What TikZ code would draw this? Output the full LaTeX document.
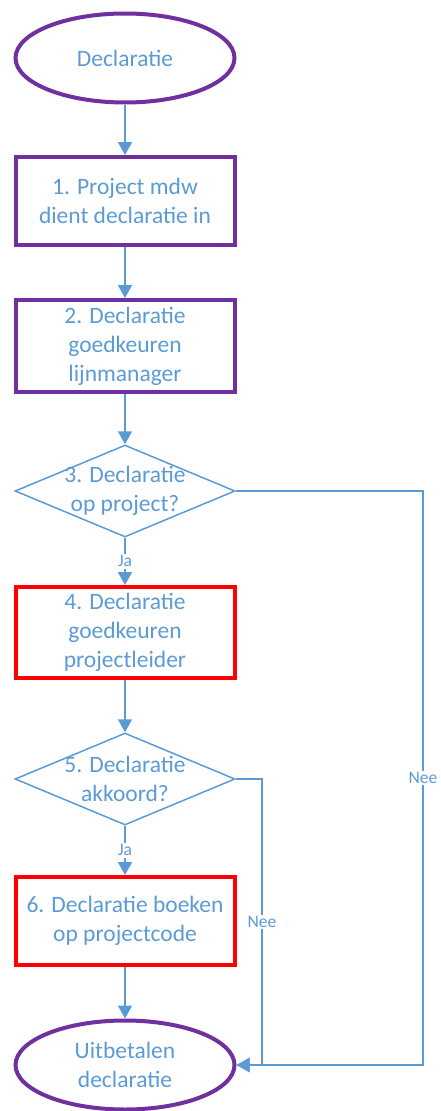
\documentclass[tikz,border=0pt]{standalone}
\usepackage{fontspec}
\setmainfont{Carlito}
\usetikzlibrary{shapes.geometric,arrows.meta}
\definecolor{ablue}{HTML}{5B9BD5}
\definecolor{apurple}{HTML}{7030A0}
\definecolor{ared}{HTML}{FF0000}
\begin{document}
\begin{tikzpicture}[x=1pt,y=-1pt,
  txt/.style={text=ablue,align=center,font=\fontsize{23.5}{29}\selectfont,inner sep=0pt},
  term/.style={ellipse,draw=apurple,line width=4pt,minimum width=219pt,minimum height=89pt,inner sep=0pt,txt},
  procp/.style={rectangle,draw=apurple,line width=4pt,minimum width=219pt,inner sep=0pt,txt},
  procr/.style={rectangle,draw=ared,line width=4pt,minimum width=219pt,inner sep=0pt,txt},
  dec/.style={diamond,draw=ablue,line width=1.5pt,minimum width=220pt,minimum height=92pt,inner sep=0pt},
  flow/.style={draw=ablue,line width=2pt,-{Triangle[width=14pt,length=13pt]}},
  lab/.style={text=ablue,font=\fontsize{17.5}{20}\selectfont,fill=white,inner sep=1.5pt}]
\useasboundingbox (0,0) rectangle (441,1111);
\node[term] (e1) at (125,58) {Declaratie};
\node[procp,minimum height=88pt] (b1) at (125,201) {1. Project mdw\\dient declaratie in};
\node[procp,minimum height=92pt] (b2) at (125,346) {2. Declaratie\\goedkeuren\\lijnmanager};
\node[dec] (d3) at (125,491) {};
\node[txt] (t3) at (d3) {3. Declaratie\\op project?};
\node[procr,minimum height=91pt] (b4) at (125,632.5) {4. Declaratie\\goedkeuren\\projectleider};
\node[dec] (d5) at (125,779) {};
\node[txt] (t5) at (d5) {5. Declaratie\\akkoord?};
\node[procr,minimum height=88pt] (b6) at (125,921) {6. Declaratie boeken\\op projectcode};
\node[term] (e2) at (125,1065) {Uitbetalen\\declaratie};
\coordinate (r1) at (423,491);
\coordinate (r2) at (423,1065);
\coordinate (s1) at (262,779);
\coordinate (s2) at (262,1065);
\draw[flow] (e1) -- (b1);
\draw[flow] (b1) -- (b2);
\draw[flow] (b2) -- (d3);
\draw[flow] (d3) -- node[lab] {Ja} (b4);
\draw[flow] (b4) -- (d5);
\draw[flow] (d5) -- node[lab] {Ja} (b6);
\draw[flow] (b6) -- (e2);
\draw[flow] (d3.east) -- (r1) -- node[lab] {Nee} (r2) -- (e2.east);
\draw[flow] (d5.east) -- (s1) -- node[lab] {Nee} (s2) -- (e2.east);
\end{tikzpicture}
\end{document}
